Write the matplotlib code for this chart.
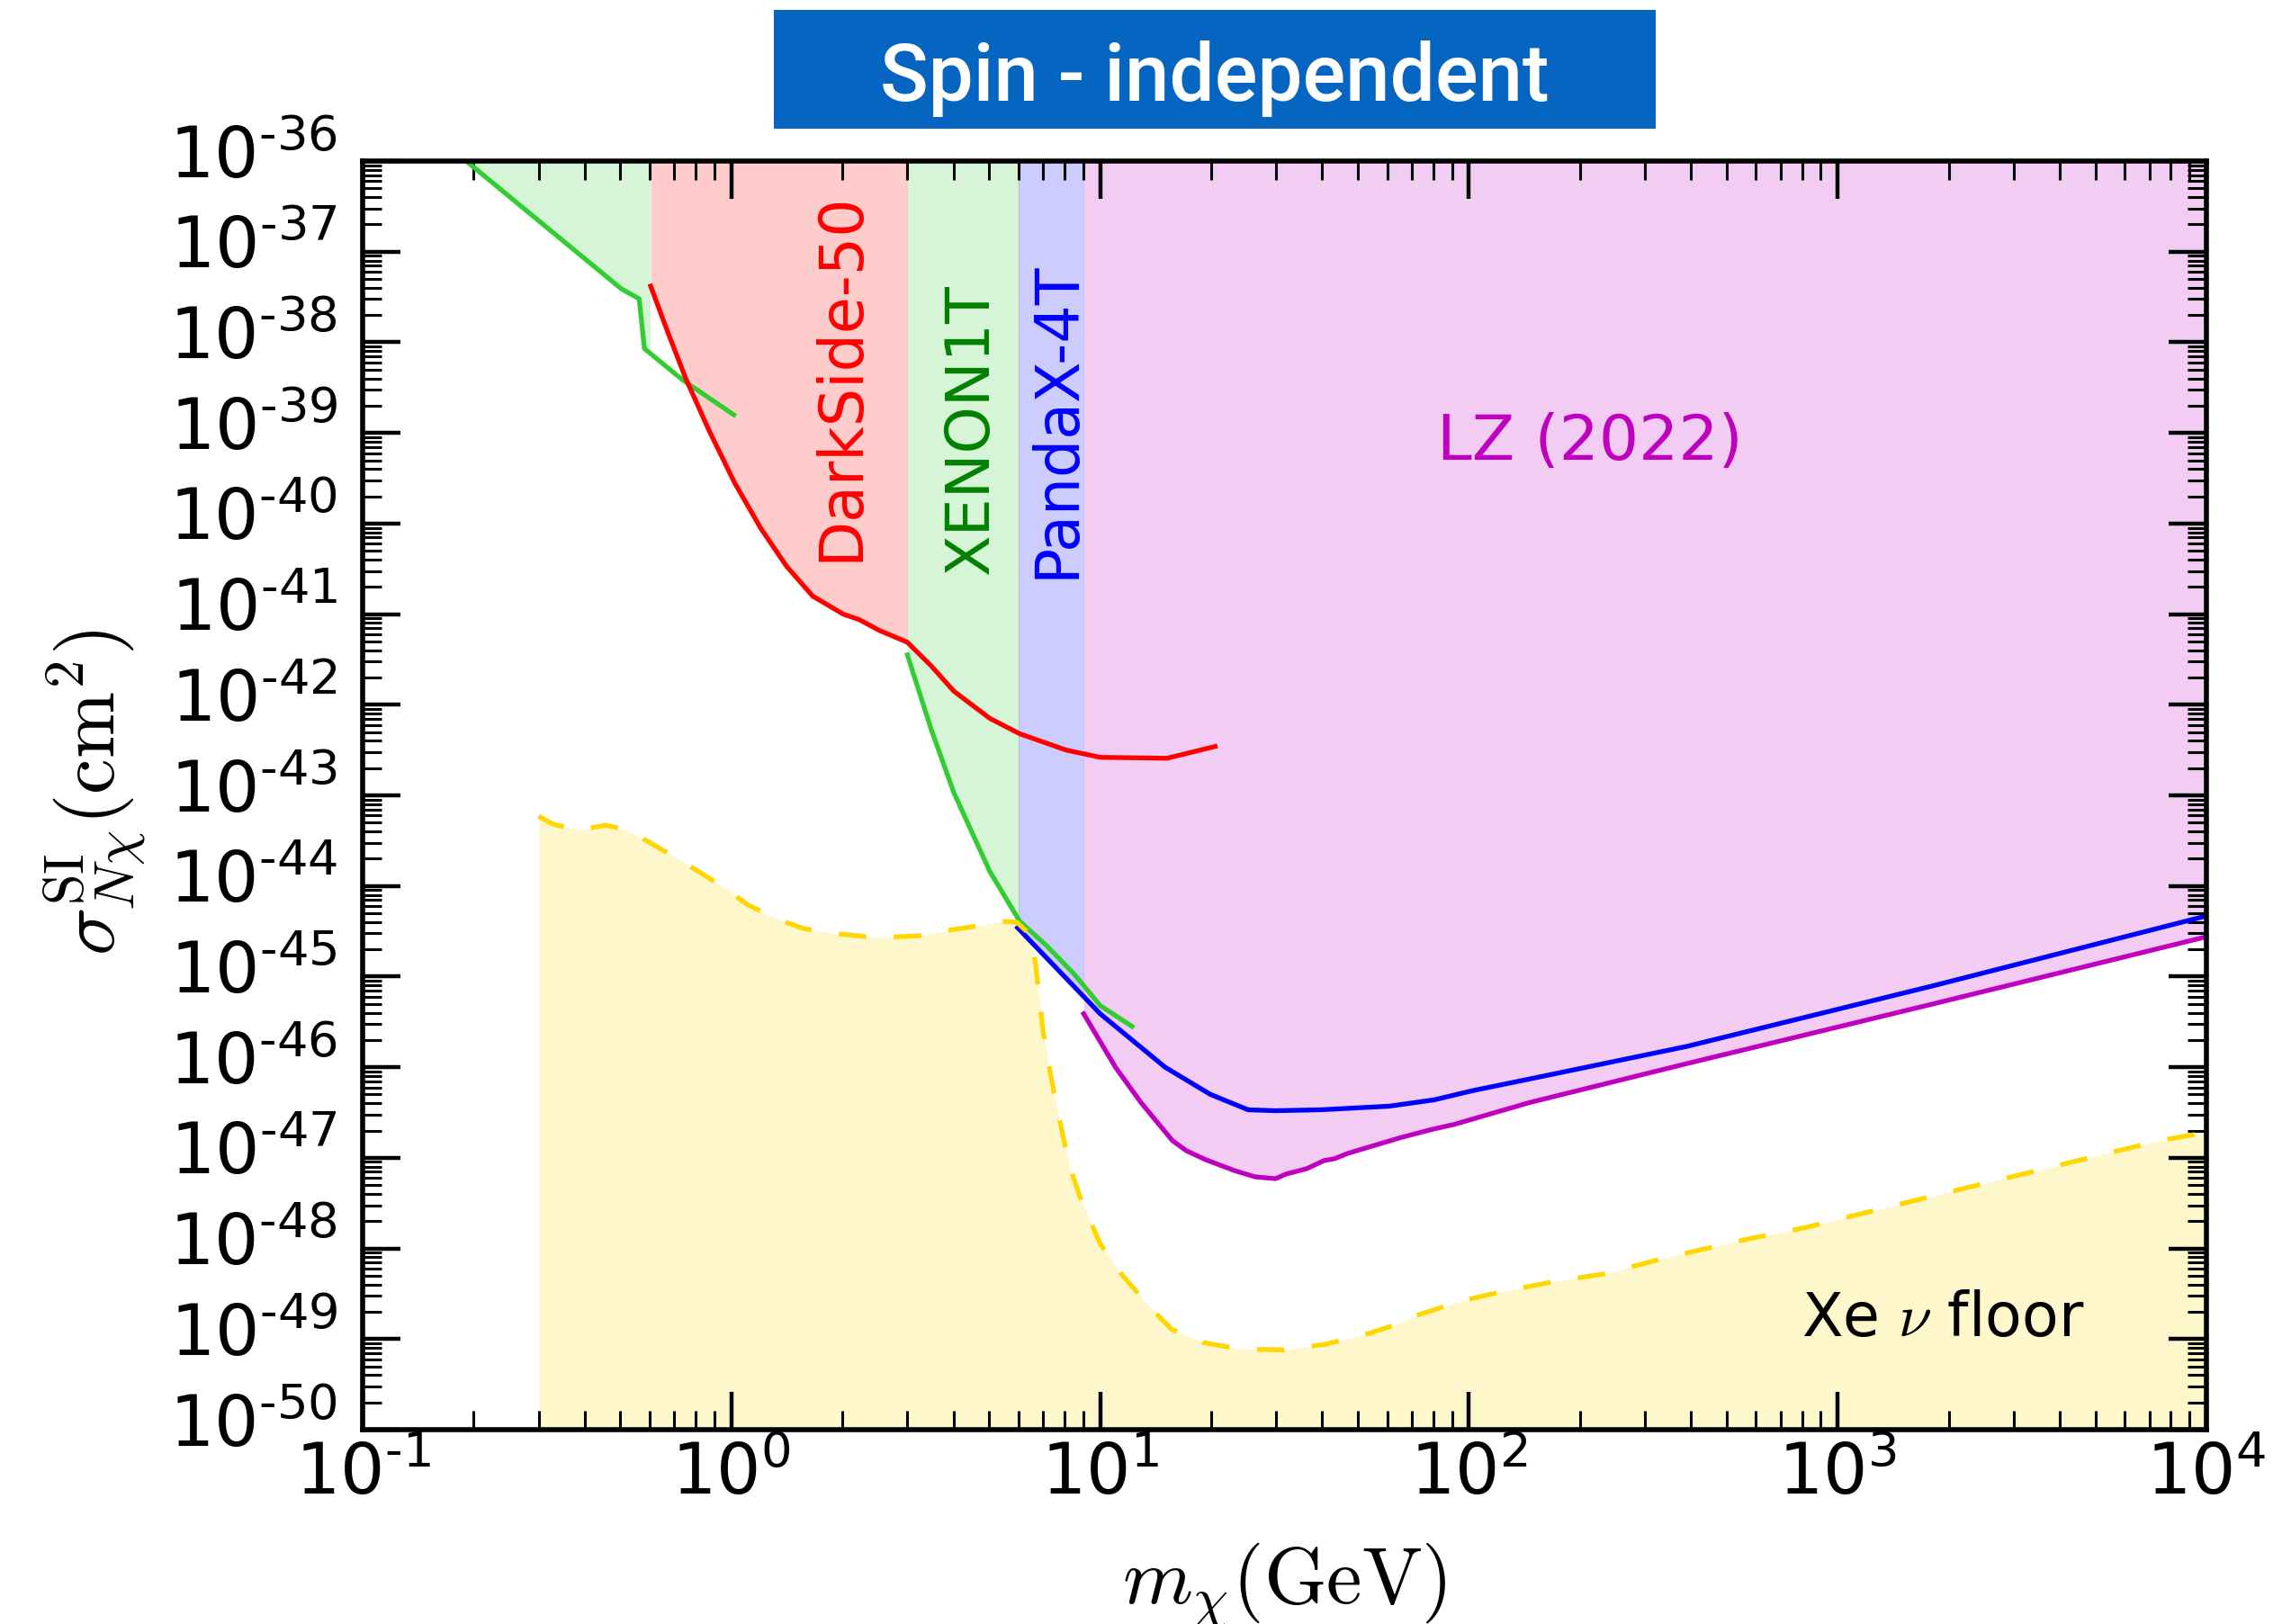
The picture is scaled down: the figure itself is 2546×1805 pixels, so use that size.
import numpy as np
import matplotlib
matplotlib.use("Agg")
import matplotlib.pyplot as plt
import matplotlib.transforms as mtransforms
from matplotlib.patches import Rectangle
from matplotlib.ticker import LogLocator, FuncFormatter, NullFormatter

plt.rcParams['mathtext.fontset'] = 'cm'
plt.rcParams['font.family'] = 'DejaVu Sans'

# --- limits: mass in GeV, log10 of sigma in cm^2 ---
# DarkSide-50
m_ds = [0.604, 0.671, 0.752, 0.869, 1.02, 1.20, 1.41, 1.66, 2.01, 2.22, 2.52, 3.0,
        3.48, 4.01, 5.02, 6.05, 8.09, 10.0, 15.2, 20.5]
ls_ds = [-37.38, -37.88, -38.40, -38.97, -39.55, -40.05, -40.47, -40.80, -41.00, -41.06,
         -41.18, -41.31, -41.57, -41.85, -42.15, -42.32, -42.50, -42.58, -42.59, -42.46]

# XENON1T, low mass piece and high mass piece
m_x1a = [0.191, 0.503, 0.562, 0.581, 0.74, 1.015]
ls_x1a = [-36.0, -37.41, -37.52, -38.07, -38.42, -38.80]
m_x1b = [3.0, 3.48, 4.01, 5.02, 6.05, 7.16, 8.49, 10.0, 12.2]
ls_x1b = [-41.45, -42.27, -42.97, -43.84, -44.39, -44.66, -44.97, -45.32, -45.55]

# PandaX-4T
m_px = [5.97, 10.0, 15.0, 19.9, 25.2, 29.9, 39.5, 60.8, 80.5, 102, 146, 390, 1820, 10000]
ls_px = [-44.46, -45.41, -46.00, -46.30, -46.47, -46.48, -46.47, -46.43, -46.36, -46.26,
         -46.13, -45.77, -45.10, -44.33]

# LZ (2022)
m_lz = [9.02, 11.0, 12.9, 15.7, 17.1, 19.3, 23.1, 26.3, 29.9, 31.9, 36.3, 40.5, 43.2,
        47.0, 64.9, 78.7, 91.4, 146, 390, 1820, 10000]
ls_lz = [-45.41, -46.00, -46.39, -46.81, -46.92, -47.02, -47.14, -47.21, -47.23, -47.18,
         -47.12, -47.03, -47.01, -46.95, -46.78, -46.69, -46.63, -46.39, -45.96, -45.30, -44.56]

# Xe neutrino floor
m_nu = [0.30, 0.329, 0.388, 0.457, 0.505, 0.543, 0.703, 0.859, 0.964, 1.11, 1.32, 1.57,
        1.86, 2.48, 3.21, 3.87, 4.66, 5.38, 5.94, 6.43, 6.67, 7.00, 7.35, 7.73, 8.24,
        8.85, 10.0, 11.4, 13.8, 15.6, 19.1, 23.9, 31.5, 40.5, 53.3, 63.5, 72.1, 95.1,
        122, 173, 234, 344, 564, 815, 1820, 7460, 10000]
ls_nu = [-43.23, -43.32, -43.38, -43.33, -43.37, -43.42, -43.68, -43.90, -44.03, -44.21,
         -44.36, -44.47, -44.52, -44.57, -44.55, -44.49, -44.44, -44.39, -44.40, -44.53,
         -44.84, -45.60, -46.10, -46.55, -47.08, -47.45, -47.95, -48.28, -48.67, -48.89,
         -49.04, -49.11, -49.12, -49.06, -48.94, -48.84, -48.74, -48.58, -48.48, -48.36,
         -48.28, -48.10, -47.90, -47.77, -47.42, -46.81, -46.72]

# mass bands in which each experiment's excluded region is shaded
bands = [
    (0.19, 0.6, m_x1a, ls_x1a, 'limegreen'),
    (0.6, 3.0, m_ds, ls_ds, 'r'),
    (3.0, 6.0, m_x1b, ls_x1b, 'limegreen'),
    (6.0, 9.0, m_px, ls_px, 'b'),
    (9.0, 1e4, m_lz, ls_lz, 'm'),
]

fig = plt.figure(figsize=(12.73, 9.03), dpi=200)
ax = fig.add_axes([0.1583, 0.1196, 0.8048, 0.7807])
ax.set_xscale('log')
ax.set_yscale('log')
ax.set_xlim(0.1, 1e4)
ax.set_ylim(1e-50, 1e-36)

band_trans = mtransforms.blended_transform_factory(ax.transData, ax.transAxes)
for lo, hi, m, ls, col in bands:
    poly = ax.fill_between(m, 10.0 ** np.array(ls), 1e-36, color=col, alpha=0.2, lw=0)
    poly.set_clip_path(Rectangle((lo, 0), hi - lo, 1, transform=band_trans))

ax.fill_between(m_nu, 1e-50, 10.0 ** np.array(ls_nu), color='gold', alpha=0.2, lw=0)

lw = 1.9
ax.plot(m_lz, 10.0 ** np.array(ls_lz), color='m', lw=lw)
ax.plot(m_px, 10.0 ** np.array(ls_px), color='b', lw=lw)
ax.plot(m_x1a, 10.0 ** np.array(ls_x1a), color='limegreen', lw=lw)
ax.plot(m_x1b, 10.0 ** np.array(ls_x1b), color='limegreen', lw=lw)
ax.plot(m_ds, 10.0 ** np.array(ls_ds), color='r', lw=lw)
ax.plot(m_nu, 10.0 ** np.array(ls_nu), color='gold', lw=lw, ls=(0, (5.8, 5.8)))

# labels on the plot
ax.text(2.21, 10 ** -40.41, 'DarkSide-50', color='r', fontsize=24, rotation=90,
        rotation_mode='anchor', ha='left', va='baseline')
ax.text(4.97, 10 ** -40.56, 'XENON1T', color='green', fontsize=24, rotation=90,
        rotation_mode='anchor', ha='left', va='baseline')
ax.text(8.47, 10 ** -40.60, 'PandaX-4T', color='b', fontsize=24, rotation=90,
        rotation_mode='anchor', ha='left', va='baseline')
ax.text(213, 10 ** -39.29, 'LZ (2022)', color='m', fontsize=25, ha='center', va='baseline')
ax.text(1928, 10 ** -48.96, r'Xe $\nu$ floor', color='k', fontsize=24, ha='center', va='baseline')


def exp_label(v, pos):
    e = int(round(np.log10(v)))
    s = '\u2010' + str(-e) if e < 0 else str(e)
    return r'$\mathdefault{10^{%s}}$' % s


for axis in (ax.xaxis, ax.yaxis):
    axis.set_major_locator(LogLocator(base=10, numticks=40))
    axis.set_minor_locator(LogLocator(base=10, subs=np.arange(2, 10), numticks=200))
    axis.set_major_formatter(FuncFormatter(exp_label))
    axis.set_minor_formatter(NullFormatter())

ax.tick_params(which='both', direction='in', top=True, right=True)
ax.tick_params(which='major', length=15, width=1.6, labelsize=28)
ax.tick_params(which='minor', length=7.5, width=1.1)
ax.tick_params(axis='x', pad=4)
ax.tick_params(axis='y', pad=10)
for sp in ax.spines.values():
    sp.set_linewidth(2)

# y tick labels sit a little above their ticks in the original
lift = mtransforms.ScaledTranslation(0, 4.5 / 72, fig.dpi_scale_trans)
for t in ax.yaxis.get_major_ticks():
    t.label1.set_transform(t.label1.get_transform() + lift)

ax.set_xlabel(r'$m_\chi({\rm GeV})$', fontsize=32)
ax.set_ylabel(r'$\sigma^{\rm SI}_{N\chi}({\rm cm}^2)$', fontsize=32)
ax.xaxis.set_label_coords(0.5, -0.087)
ax.yaxis.set_label_coords(-0.116, 0.503)

# title banner
fig.patches.append(Rectangle((0.3378, 0.9203), 0.3849, 0.0731, transform=fig.transFigure,
                             facecolor='#0565C0', edgecolor='none'))
fig.text(0.5302, 0.9382, 'Spin - independent', color='white', fontsize=32,
         family='Roboto', weight='medium', ha='center', va='baseline')

fig.savefig('out.png', dpi=200)
